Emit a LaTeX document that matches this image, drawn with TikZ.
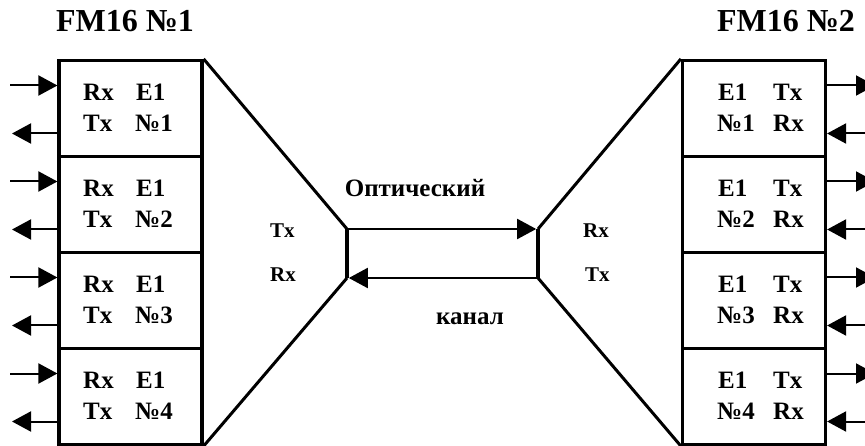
\documentclass[tikz,border=0pt]{standalone}
\usepackage{fontspec}
\setmainfont{Liberation Serif}
\usetikzlibrary{arrows.meta}
\tikzset{
  box/.style={draw, line width=3.2pt, minimum width=143pt, minimum height=96pt, inner sep=0pt},
  sig/.style={line width=2pt, -{Triangle[length=19pt,width=20pt]}},
  edge/.style={line width=3pt},
  post/.style={line width=3.6pt},
  lbl/.style={inner sep=0pt, font=\fontsize{25}{30}\selectfont\bfseries},
  small/.style={inner sep=0pt, font=\fontsize{21}{25}\selectfont\bfseries},
  title/.style={inner sep=0pt, font=\fontsize{32}{38}\selectfont\bfseries}
}
\begin{document}
\begin{tikzpicture}[x=1pt, y=-1pt]
  \useasboundingbox (0,0) rectangle (865,446);

  % unit titles
  \node[title, anchor=base] (t1) at (125,32) {FM16 №1};
  \node[title, anchor=base] (t2) at (786,32) {FM16 №2};

  % E1 ports of both units with their input/output lines
  \foreach \i/\t in {1/60.5,2/156.5,3/252.5,4/348.5}{
    \node[box] (L\i) at (130.5,\t+48) {};
    \node[box] (R\i) at (754,\t+48) {};
    \coordinate (Lin\i) at (10,\t+25);
    \coordinate (Lout\i) at (12,\t+73);
    \coordinate (Rout\i) at (875,\t+25);
    \coordinate (Rin\i) at (875,\t+73);
    \draw[sig] (Lin\i) -- (Lin\i -| L\i.west);
    \draw[sig] (Lout\i -| L\i.west) -- (Lout\i);
    \draw[sig] (Rout\i -| R\i.east) -- (Rout\i);
    \draw[sig] (Rin\i) -- (Rin\i -| R\i.east);
    \node[lbl, anchor=base west] (Lrx\i) at (83,\t+40) {Rx};
    \node[lbl, anchor=base west] (Le\i)  at (136,\t+40) {E1};
    \node[lbl, anchor=base west] (Ltx\i) at (83,\t+71) {Tx};
    \node[lbl, anchor=base west] (Ln\i)  at (135,\t+71) {№\i};
    \node[lbl, anchor=base west] (Re\i)  at (718,\t+40) {E1};
    \node[lbl, anchor=base west] (Rtx\i) at (773,\t+40) {Tx};
    \node[lbl, anchor=base west] (Rn\i)  at (717,\t+71) {№\i};
    \node[lbl, anchor=base west] (Rrx\i) at (773,\t+71) {Rx};
  }

  % optical line terminals
  \coordinate (TL) at (347,229);
  \coordinate (BL) at (347,278);
  \coordinate (TR) at (538,229);
  \coordinate (BR) at (538,278);

  \draw[edge] (L1.north east) -- (TL);
  \draw[edge] (L4.south east) -- (BL);
  \draw[edge] (R1.north west) -- (TR);
  \draw[edge] (R4.south west) -- (BR);
  \draw[post] (TL) -- (BL);
  \draw[post] (TR) -- (BR);

  % optical channel, both directions
  \draw[sig, shorten >=1.8pt] (TL) -- (TR);
  \draw[sig, shorten >=1.8pt] (BR) -- (BL);

  \node[small, anchor=base west] (otx1) at (270,238) {Tx};
  \node[small, anchor=base west] (orx1) at (270,282) {Rx};
  \node[small, anchor=base west] (orx2) at (583,238) {Rx};
  \node[small, anchor=base west] (otx2) at (585,282) {Tx};

  \node[lbl, anchor=base] (ch1) at (415,197) {Оптический};
  \node[lbl, anchor=base] (ch2) at (470,325) {канал};
\end{tikzpicture}
\end{document}
